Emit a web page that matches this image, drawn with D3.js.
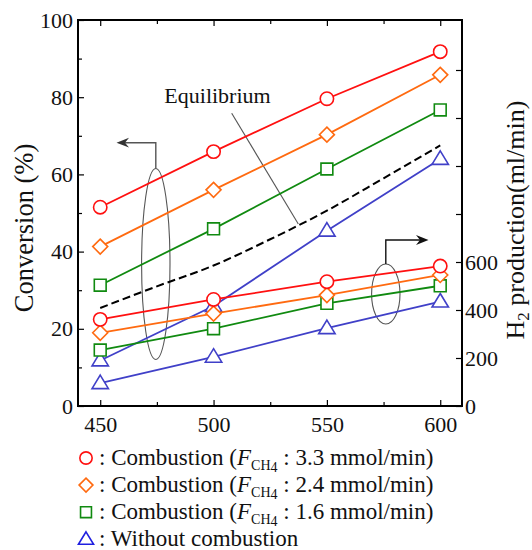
<!DOCTYPE html>
<html>
<head>
<meta charset="utf-8">
<script src="https://cdn.jsdelivr.net/npm/d3@7"></script>
<style>
  html, body { margin: 0; padding: 0; background: #fff; }
  svg { display: block; }
</style>
</head>
<body>
<svg id="chart" width="532" height="550"></svg>
<script>
// Reactor temperature (°C)
const temperatures = [450, 500, 550, 600];

// CH4 conversion (%), left axis
const convComb33 = [51.5, 65.9, 79.6, 91.8];
const convComb24 = [41.3, 56.0, 70.3, 85.8];
const convComb16 = [31.3, 45.9, 61.4, 76.7];
const convNoComb = [11.8, 25.9, 45.4, 64.0];

// H2 production (ml/min), right axis
const h2Comb33 = [361, 444, 518, 583];
const h2Comb24 = [305, 385, 462, 546];
const h2Comb16 = [233, 322, 428, 501];
const h2NoComb = [95, 205, 324, 435];

// Equilibrium conversion curve (%)
const eqTemperatures = [450, 475, 500, 525, 550, 575, 600];
const eqConversion = [25.4, 31.0, 36.4, 43.2, 50.6, 59.0, 67.5];

// Axis ticks
const xTicks = [450, 500, 550, 600];
const xMinorTicks = [475, 525, 575];
const yTicks = [0, 20, 40, 60, 80, 100];
const yMinorTicks = [10, 30, 50, 70, 90];
const y2Ticks = [0, 200, 400, 600, 800, 1000, 1200, 1400];
const y2Labelled = [0, 200, 400, 600];

// Legend entries
const legendLabels = [
  { kind: "circle", fch4: "3.3" },
  { kind: "diamond", fch4: "2.4" },
  { kind: "square", fch4: "1.6" },
  { kind: "triangle", fch4: null }
];

const colors = { circle: "#ff1010", diamond: "#ff6a10", square: "#108a10", triangle: "#4040c8" };
const serif = '"Times New Roman", "Liberation Serif", serif';

const svg = d3.select("#chart");
const plot = { left: 78, right: 462, top: 20, bottom: 406 };

const x = d3.scaleLinear().domain([440.2, 609.6]).range([plot.left, plot.right]);
const y = d3.scaleLinear().domain([0, 100]).range([plot.bottom, plot.top]);
const y2 = d3.scaleLinear().domain([0, 1600]).range([plot.bottom, plot.top + 2]);

// ---- axes ----
function styleAxis(g) {
  g.select(".domain").remove();
  g.selectAll(".tick line").attr("stroke", "#000").attr("stroke-width", 1.2);
  g.selectAll(".tick text").style("font-family", serif)
    .attr("font-size", 22).attr("fill", "#111");
}

svg.append("g").attr("transform", `translate(0,${plot.bottom})`)
  .call(d3.axisBottom(x).tickValues(xTicks).tickSize(-6).tickPadding(10).tickFormat(d3.format("d")))
  .call(styleAxis);
svg.append("g").attr("transform", `translate(0,${plot.bottom})`)
  .call(d3.axisBottom(x).tickValues(xMinorTicks).tickSize(-4).tickFormat(""))
  .call(styleAxis);
svg.append("g").attr("transform", `translate(0,${plot.top})`)
  .call(d3.axisTop(x).tickValues(xTicks).tickSize(-6).tickFormat(""))
  .call(styleAxis);
svg.append("g").attr("transform", `translate(0,${plot.top})`)
  .call(d3.axisTop(x).tickValues(xMinorTicks).tickSize(-4).tickFormat(""))
  .call(styleAxis);

svg.append("g").attr("transform", `translate(${plot.left},0)`)
  .call(d3.axisLeft(y).tickValues(yTicks).tickSize(-6).tickPadding(5).tickFormat(d3.format("d")))
  .call(styleAxis);
svg.append("g").attr("transform", `translate(${plot.left},0)`)
  .call(d3.axisLeft(y).tickValues(yMinorTicks).tickSize(-4).tickFormat(""))
  .call(styleAxis);

svg.append("g").attr("transform", `translate(${plot.right},0)`)
  .call(d3.axisRight(y2).tickValues(y2Ticks).tickSize(-6).tickPadding(3)
    .tickFormat(d => y2Labelled.includes(d) ? d3.format("d")(d) : ""))
  .call(styleAxis);

// frame
svg.append("rect")
  .attr("x", plot.left).attr("y", plot.top)
  .attr("width", plot.right - plot.left).attr("height", plot.bottom - plot.top)
  .attr("fill", "none").attr("stroke", "#000").attr("stroke-width", 2);

// axis titles
svg.append("text")
  .attr("transform", `translate(33,228) rotate(-90)`)
  .attr("text-anchor", "middle").attr("font-size", 26.5).attr("fill", "#111")
  .style("font-family", serif)
  .text("Conversion (%)");

const h2Title = svg.append("text")
  .attr("transform", `translate(524,220) rotate(-90)`)
  .attr("text-anchor", "middle").attr("font-size", 26).attr("fill", "#111")
  .style("font-family", serif);
h2Title.append("tspan").text("H");
h2Title.append("tspan").attr("font-size", 17).attr("dy", 5).text("2");
h2Title.append("tspan").attr("dy", -5).text(" production(ml/min)");

// ---- marker symbols ----
function markerPath(kind, size) {
  const s = size || 1;
  if (kind === "circle") return d3.symbol(d3.symbolCircle, 140 * s)();
  if (kind === "square") return d3.symbol(d3.symbolSquare, 140 * s)();
  if (kind === "diamond") {
    const r = 7.5 * Math.sqrt(s);
    return `M0,${-r}L${r},0L0,${r}L${-r},0Z`;
  }
  const h = 13.5 * Math.sqrt(s), w = 8.2 * Math.sqrt(s);
  return `M0,${-h * 0.6}L${w},${h * 0.4}L${-w},${h * 0.4}Z`;
}

// ---- annotations behind data ----
const annoColor = "#555";
// left ellipse + arrow (conversion -> left axis)
svg.append("ellipse").attr("cx", 155.8).attr("cy", 264).attr("rx", 14.2).attr("ry", 95.5)
  .attr("fill", "none").attr("stroke", annoColor).attr("stroke-width", 1.1);
svg.append("path").attr("d", "M155.8,168.5V142.7H121")
  .attr("fill", "none").attr("stroke", annoColor).attr("stroke-width", 1.4);
svg.append("path").attr("d", "M116.5,142.7L129,137.8L125,142.7L129,147.6Z").attr("fill", "#333");

// right ellipse + arrow (H2 production -> right axis)
svg.append("ellipse").attr("cx", 385.8).attr("cy", 294).attr("rx", 14.2).attr("ry", 30)
  .attr("fill", "none").attr("stroke", annoColor).attr("stroke-width", 1.1);
svg.append("path").attr("d", "M385.8,264V240H424")
  .attr("fill", "none").attr("stroke", "#111").attr("stroke-width", 1.4);
svg.append("path").attr("d", "M428.5,240L416,235.1L420,240L416,244.9Z").attr("fill", "#111");

// equilibrium leader line + label
svg.append("line").attr("x1", 231.7).attr("y1", 113.3).attr("x2", 298.3).attr("y2", 224)
  .attr("stroke", annoColor).attr("stroke-width", 1.1);
svg.append("text").attr("x", 217.5).attr("y", 102.5).attr("text-anchor", "middle")
  .attr("font-size", 22).attr("fill", "#111").style("font-family", serif).text("Equilibrium");

// equilibrium curve
svg.append("path")
  .datum(eqTemperatures.map((t, i) => [t, eqConversion[i]]))
  .attr("d", d3.line().x(d => x(d[0])).y(d => y(d[1])).curve(d3.curveMonotoneX))
  .attr("fill", "none").attr("stroke", "#000").attr("stroke-width", 2)
  .attr("stroke-dasharray", "8,4");

// ---- data series (drawn blue first so red sits on top) ----
const series = [
  { kind: "triangle", values: convNoComb, scale: y },
  { kind: "triangle", values: h2NoComb, scale: y2 },
  { kind: "square", values: convComb16, scale: y },
  { kind: "square", values: h2Comb16, scale: y2 },
  { kind: "diamond", values: convComb24, scale: y },
  { kind: "diamond", values: h2Comb24, scale: y2 },
  { kind: "circle", values: convComb33, scale: y },
  { kind: "circle", values: h2Comb33, scale: y2 }
];

series.forEach(s => {
  const pts = temperatures.map((t, i) => [t, s.values[i]]);
  const g = svg.append("g");
  g.append("path").datum(pts)
    .attr("d", d3.line().x(d => x(d[0])).y(d => s.scale(d[1])))
    .attr("fill", "none").attr("stroke", colors[s.kind]).attr("stroke-width", 1.8);
  g.selectAll("path.m").data(pts).join("path").attr("class", "m")
    .attr("transform", d => `translate(${x(d[0])},${s.scale(d[1])})`)
    .attr("d", markerPath(s.kind))
    .attr("fill", "#fff").attr("stroke", colors[s.kind]).attr("stroke-width", 1.6);
});

// ---- legend ----
const legend = svg.append("g");
legendLabels.forEach((item, i) => {
  const baseY = 465 + i * 27.1;
  legend.append("path")
    .attr("transform", `translate(86,${baseY - 7})`)
    .attr("d", markerPath(item.kind, 0.85))
    .attr("fill", "#fff").attr("stroke", item.kind === "triangle" ? "#2020e0" : colors[item.kind])
    .attr("stroke-width", 1.6);
  const t = legend.append("text").attr("x", 99).attr("y", baseY)
    .attr("font-size", 23).attr("fill", "#111").style("font-family", serif);
  if (item.fch4) {
    t.append("tspan").text(": Combustion (");
    t.append("tspan").attr("font-style", "italic").text("F");
    t.append("tspan").attr("font-size", 14).attr("dy", 4.5).text("CH");
    t.append("tspan").attr("font-size", 14).attr("dy", 2.5).text("4");
    t.append("tspan").attr("dy", -7).text(` : ${item.fch4} mmol/min)`);
  } else {
    t.append("tspan").text(": Without combustion");
  }
});
</script>
</body>
</html>
